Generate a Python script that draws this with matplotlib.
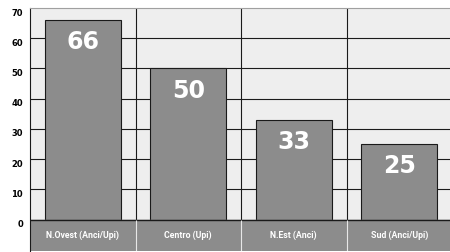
import matplotlib.pyplot as plt
from matplotlib.transforms import ScaledTranslation

categories = ['N.Ovest (Anci/Upi)', 'Centro (Upi)', 'N.Est (Anci)', 'Sud (Anci/Upi)']
values = [66, 50, 33, 25]
yticks = [0, 10, 20, 30, 40, 50, 60, 70]

grey = '#8c8c8c'
band_bottom = -10.4

fig = plt.figure(figsize=(4.5, 2.52), dpi=100)
ax = fig.add_axes([30/450, 1/252, 422/450, 243/252])
ax.set_facecolor('#eeeeee')

x = list(range(len(categories)))
ax.set_xlim(-0.5, len(categories) - 0.5)
ax.set_ylim(band_bottom, 70)

# grid drawn by hand so it stops at the label band
for t in yticks[1:-1]:
    ax.hlines(t, -0.5, len(categories) - 0.5, color='#1a1a1a', lw=0.8, zorder=1)
for b in x[:-1]:
    ax.vlines(b + 0.5, 0, 70, color='#1a1a1a', lw=0.8, zorder=1)

ax.bar(x, values, width=0.72, color=grey, edgecolor='#1a1a1a', linewidth=0.8, zorder=2)

for xi, v in zip(x, values):
    ax.annotate(str(v), (xi, v), xytext=(0, -16), textcoords='offset points',
                ha='center', va='center', color='white', fontsize=17,
                fontweight='bold', family='DejaVu Sans', zorder=3)

# label band under the axis
ax.axhspan(band_bottom, 0, color=grey, zorder=2)
ax.hlines(0, -0.5, len(categories) - 0.5, color='#1a1a1a', lw=1.0, zorder=3)
for b in x[:-1]:
    ax.vlines(b + 0.5, band_bottom, 0, color='#e8e8e8', lw=0.8, zorder=3)
for xi, c in zip(x, categories):
    ax.text(xi, band_bottom / 2, c, ha='center', va='center', color='white',
            fontsize=6.3, fontweight='bold', family='Roboto', zorder=3)

ax.set_xticks([])
ax.set_yticks(yticks)
ax.set_yticklabels([str(t) for t in yticks], fontsize=6, fontweight='bold', family='DejaVu Sans')
ax.tick_params(axis='y', length=0, pad=5)
offset = ScaledTranslation(0, -4/100, fig.dpi_scale_trans)
for lab in ax.get_yticklabels():
    lab.set_transform(lab.get_transform() + offset)

ax.spines['left'].set_color('#1a1a1a')
ax.spines['top'].set_color('#a0a0a0')
ax.spines['right'].set_visible(False)
ax.spines['bottom'].set_visible(False)

fig.savefig('out.png', dpi=100)
